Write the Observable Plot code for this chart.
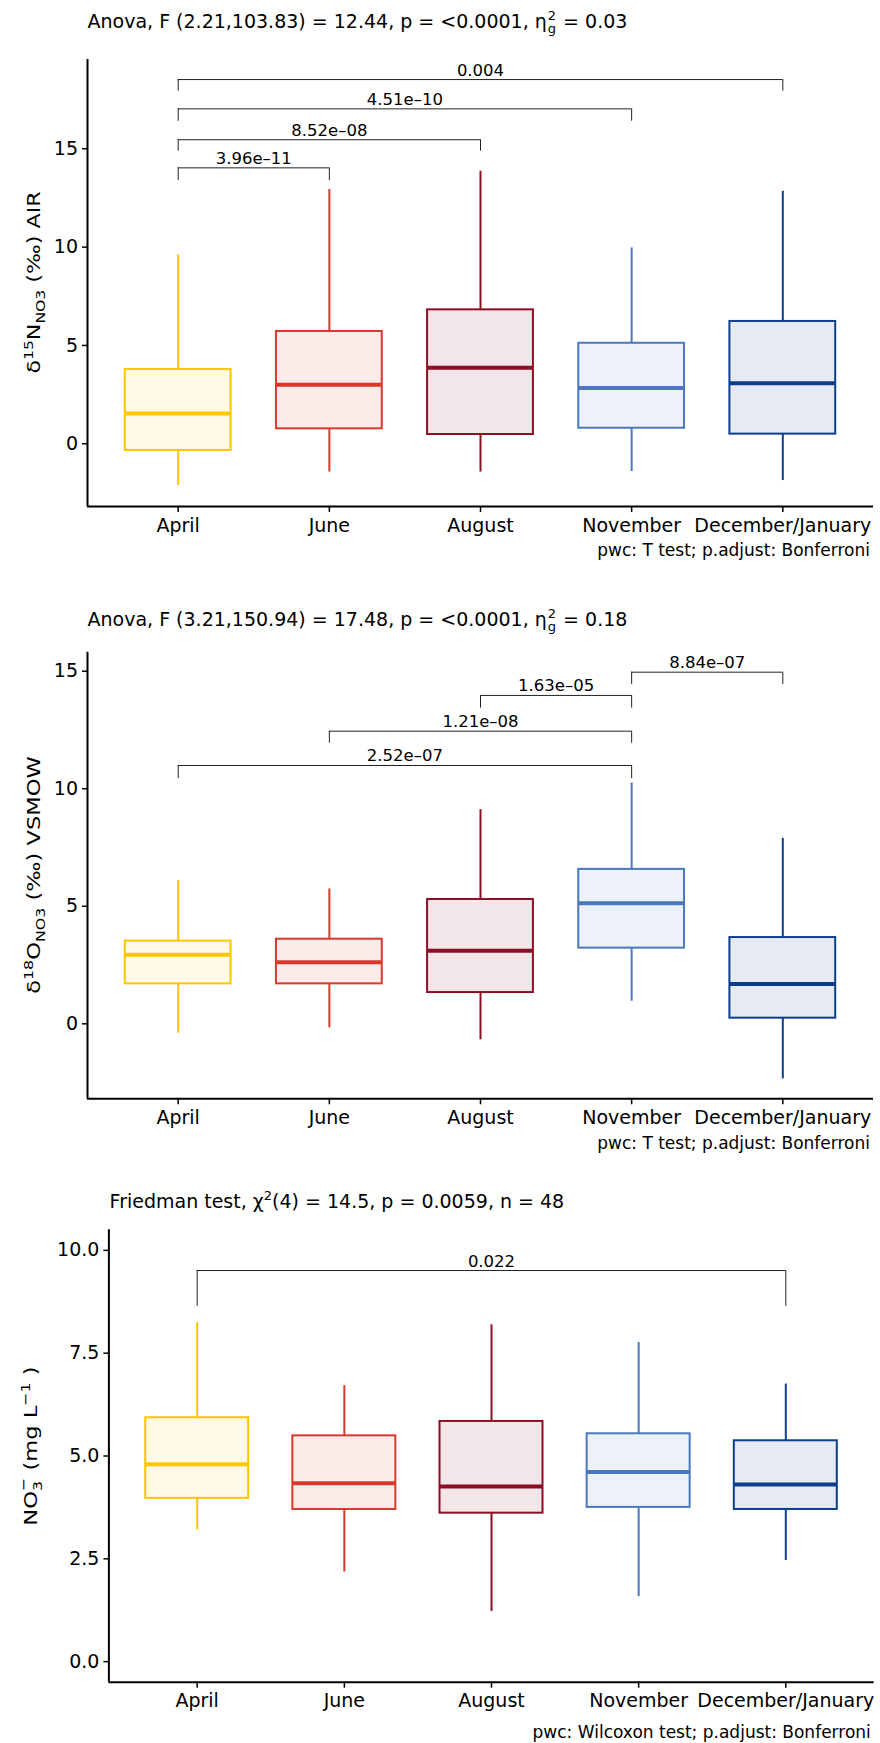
<!DOCTYPE html>
<html><head><meta charset="utf-8">
<script src="https://cdn.jsdelivr.net/npm/d3@7"></script>
<script src="https://cdn.jsdelivr.net/npm/@observablehq/plot@0.6"></script>
<style>
body{margin:0;background:#fff;}
#chart svg{display:block;}
</style></head><body><div id="chart"></div>
<script>
const months = ["April","June","August","November","December/January"];
const colors = ["#FFC600","#D8392C","#8C0E24","#4B78BC","#0C3F8B"];

// Panel 1: δ15N-NO3 (‰) AIR
const n15Low  = [-2.12, -1.44, -1.44, -1.41, -1.87];
const n15Q1   = [-0.34,  0.76,  0.47,  0.79,  0.49];
const n15Med  = [ 1.54,  3.00,  3.86,  2.83,  3.08];
const n15Q3   = [ 3.78,  5.71,  6.81,  5.11,  6.22];
const n15High = [ 9.61, 12.93, 13.86,  9.96, 12.84];
const n15BFrom = [1, 1, 1, 1];
const n15BTo   = [2, 3, 4, 5];
const n15BY    = [14.03, 15.46, 17.03, 18.52];
const n15BTip  = [13.39, 14.88, 16.40, 17.93];
const n15BLab  = ["3.96e\u201311", "8.52e\u201308", "4.51e\u201310", "0.004"];
const n15Ticks = [0, 5, 10, 15];

// Panel 2: δ18O-NO3 (‰) VSMOW
const o18Low  = [-0.40, -0.17, -0.68,  0.96, -2.34];
const o18Q1   = [ 1.70,  1.70,  1.33,  3.22,  0.24];
const o18Med  = [ 2.94,  2.62,  3.11,  5.13,  1.69];
const o18Q3   = [ 3.52,  3.60,  5.29,  6.57,  3.67];
const o18High = [ 6.10,  5.74,  9.11, 10.24,  7.89];
const o18BFrom = [4, 3, 2, 1];
const o18BTo   = [5, 4, 4, 4];
const o18BY    = [14.96, 13.97, 12.45, 10.99];
const o18BTip  = [14.44, 13.43, 11.94, 10.43];
const o18BLab  = ["8.84e\u201307", "1.63e\u201305", "1.21e\u201308", "2.52e\u201307"];
const o18Ticks = [0, 5, 10, 15];

// Panel 3: NO3- (mg L-1)
const no3Low  = [3.20, 2.18, 1.22, 1.58, 2.46];
const no3Q1   = [3.97, 3.70, 3.61, 3.75, 3.70];
const no3Med  = [4.80, 4.34, 4.26, 4.61, 4.31];
const no3Q3   = [5.93, 5.49, 5.84, 5.54, 5.37];
const no3High = [8.25, 6.71, 8.19, 7.76, 6.75];
const no3BFrom = [1];
const no3BTo   = [5];
const no3BY    = [9.51];
const no3BTip  = [8.64];
const no3BLab  = ["0.022"];
const no3Ticks = [0, 2.5, 5, 7.5, 10];

const FONT = "DejaVu Sans";

function addText(svg, x, y, parts, opts = {}) {
  const t = d3.select(svg).append("text")
    .attr("font-family", FONT)
    .attr("fill", "black")
    .attr("text-anchor", opts.anchor || "start");
  if (opts.rotate) t.attr("transform", `translate(${x},${y}) rotate(${opts.rotate}) scale(${opts.sx || 1},1)`);
  else t.attr("x", x).attr("y", y);
  for (const p of parts) {
    const s = t.append("tspan").attr("font-size", p.size || opts.size || 19).text(p.t);
    if (p.dy) s.attr("dy", p.dy);
    if (p.dx) s.attr("dx", p.dx);
  }
  return t;
}

function panel(o) {
  const rows = months.map((m, i) => ({i: i + 1, month: m, lo: o.lo[i], q1: o.q1[i], med: o.med[i], q3: o.q3[i], hi: o.hi[i]}));
  const br = o.bFrom.map((f, k) => ({from: f, to: o.bTo[k], y: o.bY[k], tip: o.bTip[k], label: o.bLab[k]}));
  const hw = 0.35;
  const svg = Plot.plot({
    width: 880, height: o.height,
    marginTop: o.mt, marginBottom: o.mb, marginLeft: o.ml, marginRight: o.mr,
    style: {fontFamily: FONT, background: "white", overflow: "visible", color: "black"},
    x: {domain: [0.4, 5.6], label: null},
    y: {domain: o.domain, label: null},
    color: {domain: months, range: colors},
    marks: [
      Plot.ruleX(rows, {x: "i", y1: "lo", y2: "q1", stroke: "month", strokeWidth: 2}),
      Plot.ruleX(rows, {x: "i", y1: "q3", y2: "hi", stroke: "month", strokeWidth: 2}),
      Plot.rect(rows, {x1: d => d.i - hw, x2: d => d.i + hw, y1: "q1", y2: "q3", fill: "month", fillOpacity: 0.1, stroke: "month", strokeWidth: 2}),
      Plot.ruleY(rows, {y: "med", x1: d => d.i - hw, x2: d => d.i + hw, stroke: "month", strokeWidth: 4}),
      Plot.ruleY(br, {y: "y", x1: "from", x2: "to", stroke: "#222", strokeWidth: 1}),
      Plot.ruleX(br, {x: "from", y1: "tip", y2: "y", stroke: "#222", strokeWidth: 1}),
      Plot.ruleX(br, {x: "to", y1: "tip", y2: "y", stroke: "#222", strokeWidth: 1}),
      Plot.text(br, {x: d => (d.from + d.to) / 2, y: "y", text: "label", lineAnchor: "bottom", dy: -4, fontSize: 16.5, fill: "black", ariaLabel: "bracket-label"}),
      Plot.axisY({ticks: o.ticks, tickFormat: o.fmt, tickSize: 5, tickPadding: 4.5, fontSize: 19, strokeWidth: 1.5, label: null}),
      Plot.axisX({ticks: [1, 2, 3, 4, 5], tickFormat: i => months[i - 1], tickSize: 6, tickPadding: 5.5, fontSize: 19, strokeWidth: 1.5, label: null}),
      Plot.ruleX([0.4], {stroke: "black", strokeWidth: 2}),
      Plot.ruleY([o.domain[0]], {stroke: "black", strokeWidth: 2})
    ]
  });
  d3.select(svg).selectAll('g[aria-label="bracket-label"], g[aria-label="bracket-label"] text')
    .style("font-size", "16.5px");
  return svg;
}

const chart = document.getElementById("chart");

// ---- Panel 1
const s1 = panel({height: 580, mt: 59, mb: 74, ml: 87, mr: 7, domain: [-3.19, 19.54],
  lo: n15Low, q1: n15Q1, med: n15Med, q3: n15Q3, hi: n15High,
  bFrom: n15BFrom, bTo: n15BTo, bY: n15BY, bTip: n15BTip, bLab: n15BLab, ticks: n15Ticks, fmt: d3.format("d")});
addText(s1, 87.5, 27.5, [
  {t: "Anova, F (2.21,103.83) = 12.44, p = <0.0001, \u03b7"},
  {t: "2", size: 13, dy: -8, dx: 1},
  {t: "g", size: 13, dx: -8.3, dy: 13},
  {t: " = 0.03", dy: -5, dx: 1}
]);
addText(s1, 39.5, (59 + 506) / 2, [
  {t: "\u03b4"}, {t: "15", size: 13, dy: -7}, {t: "N", dy: 7},
  {t: "NO3", size: 13, dy: 5}, {t: " (\u2030) AIR", dy: -5}
], {rotate: -90, anchor: "middle", size: 18.5, sx: 1.2});
addText(s1, 870, 556, [{t: "pwc: T test; p.adjust: Bonferroni"}], {anchor: "end", size: 17});
chart.appendChild(s1);

// ---- Panel 2
const s2 = panel({height: 585, mt: 71.7, mb: 66.7, ml: 87, mr: 7, domain: [-3.19, 15.81],
  lo: o18Low, q1: o18Q1, med: o18Med, q3: o18Q3, hi: o18High,
  bFrom: o18BFrom, bTo: o18BTo, bY: o18BY, bTip: o18BTip, bLab: o18BLab, ticks: o18Ticks, fmt: d3.format("d")});
addText(s2, 87.5, 46, [
  {t: "Anova, F (3.21,150.94) = 17.48, p = <0.0001, \u03b7"},
  {t: "2", size: 13, dy: -8, dx: 1},
  {t: "g", size: 13, dx: -8.3, dy: 13},
  {t: " = 0.18", dy: -5, dx: 1}
]);
addText(s2, 40, (71.7 + 585 - 66.7) / 2, [
  {t: "\u03b4"}, {t: "18", size: 13, dy: -7}, {t: "O", dy: 7},
  {t: "NO3", size: 13, dy: 5}, {t: " (\u2030) VSMOW", dy: -5}
], {rotate: -90, anchor: "middle", size: 18.5, sx: 1.22});
addText(s2, 870, 569, [{t: "pwc: T test; p.adjust: Bonferroni"}], {anchor: "end", size: 17});
chart.appendChild(s2);

// ---- Panel 3
const s3 = panel({height: 578, mt: 64.3, mb: 61.3, ml: 108.4, mr: 6.4, domain: [-0.5, 10.5],
  lo: no3Low, q1: no3Q1, med: no3Med, q3: no3Q3, hi: no3High,
  bFrom: no3BFrom, bTo: no3BTo, bY: no3BY, bTip: no3BTip, bLab: no3BLab, ticks: no3Ticks, fmt: d3.format(".1f")});
addText(s3, 109.6, 43.3, [
  {t: "Friedman test, \u03c7"},
  {t: "2", size: 13, dy: -8},
  {t: "(4) = 14.5, p = 0.0059, n = 48", dy: 8}
]);
addText(s3, 37, 281, [
  {t: "NO"}, {t: "3", size: 13, dy: 5}, {t: "\u2212", size: 13, dx: -8.3, dy: -14},
  {t: " (mg L", dy: 9}, {t: "\u22121", size: 13, dy: -7}, {t: " )", dy: 7}
], {rotate: -90, anchor: "middle", size: 18.5, sx: 1.22});
addText(s3, 870.8, 573.3, [{t: "pwc: Wilcoxon test; p.adjust: Bonferroni"}], {anchor: "end", size: 17});
chart.appendChild(s3);
</script>
</body></html>
